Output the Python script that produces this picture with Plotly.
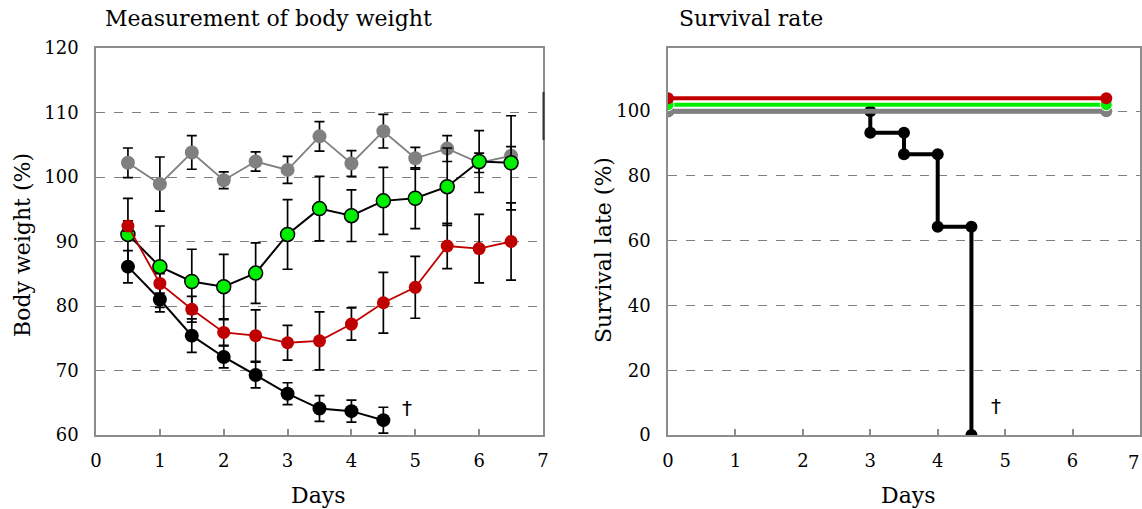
import plotly.graph_objects as go

# ---------------- data ----------------
days = [0.5, 1, 1.5, 2, 2.5, 3, 3.5, 4, 4.5, 5, 5.5, 6, 6.5]

gray_bw = [102.2, 98.9, 103.8, 99.5, 102.4, 101.1, 106.3, 102.1, 107.1, 102.9, 104.4, 102.2, 103.3]
gray_err = [2.3, 4.2, 2.6, 1.3, 1.5, 2.1, 2.3, 2.0, 2.6, 1.7, 2.0, 1.5, 1.4]

green_bw = [91.1, 86.1, 83.8, 83.0, 85.1, 91.1, 95.1, 94.0, 96.3, 96.7, 98.5, 102.4, 102.2]
green_err = [5.6, 6.3, 5.0, 5.0, 4.7, 5.4, 5.0, 4.0, 5.2, 4.7, 6.0, 4.8, 7.3]

red_bw = [92.4, 83.5, 79.5, 75.9, 75.4, 74.3, 74.6, 77.2, 80.5, 82.9, 89.3, 88.9, 90.0]
red_err = [0.8, 1.5, 2.0, 2.0, 4.0, 2.7, 4.5, 2.5, 4.7, 4.8, 3.5, 5.3, 6.0]

black_days = [0.5, 1, 1.5, 2, 2.5, 3, 3.5, 4, 4.5]
black_bw = [86.1, 81.0, 75.4, 72.1, 69.3, 66.4, 64.1, 63.7, 62.3]
black_err = [2.5, 1.9, 2.6, 1.7, 2.0, 1.7, 2.0, 1.7, 2.0]

surv_days_flat = [0, 6.5]
gray_surv = [100, 100]
green_surv = [102, 102]
red_surv = [104, 104]

black_surv_days = [0, 3, 3, 3.5, 3.5, 4, 4, 4.5, 4.5]
black_surv = [100, 100, 93.3, 93.3, 86.7, 86.7, 64.3, 64.3, 0]

bw_ticks = [60, 70, 80, 90, 100, 110, 120]
surv_ticks = [0, 20, 40, 60, 80, 100]
day_ticks = [0, 1, 2, 3, 4, 5, 6, 7]

# ---------------- styles ----------------
FONT = "DejaVu Serif"
GRID = "#7f7f7f"
FRAME = "#8c8c8c"
RED = "#c00000"
GREEN = "#00ee00"
GRAYC = "#808080"

fig = go.Figure()

def err(arr):
    return dict(type="data", array=arr, color="black", thickness=1.7, width=5)

# Left panel
fig.add_trace(go.Scatter(x=days, y=gray_bw, mode="lines+markers", error_y=err(gray_err),
                         line=dict(color=GRAYC, width=1.8),
                         marker=dict(color=GRAYC, size=14), xaxis="x", yaxis="y"))
fig.add_trace(go.Scatter(x=black_days, y=black_bw, mode="lines+markers", error_y=err(black_err),
                         line=dict(color="black", width=2),
                         marker=dict(color="black", size=14), xaxis="x", yaxis="y"))
fig.add_trace(go.Scatter(x=days, y=green_bw, mode="lines+markers", error_y=err(green_err),
                         line=dict(color="black", width=2),
                         marker=dict(color=GREEN, size=14, line=dict(color="black", width=1.5)),
                         xaxis="x", yaxis="y"))
fig.add_trace(go.Scatter(x=days, y=red_bw, mode="lines+markers", error_y=err(red_err),
                         line=dict(color=RED, width=1.8),
                         marker=dict(color=RED, size=13), xaxis="x", yaxis="y"))

# Right panel
fig.add_trace(go.Scatter(x=black_surv_days, y=black_surv, mode="lines+markers",
                         line=dict(color="black", width=4),
                         marker=dict(color="black", size=12), xaxis="x2", yaxis="y2"))
fig.add_trace(go.Scatter(x=surv_days_flat, y=gray_surv, mode="lines+markers",
                         line=dict(color=GRAYC, width=5),
                         marker=dict(color=GRAYC, size=12), xaxis="x2", yaxis="y2"))
fig.add_trace(go.Scatter(x=surv_days_flat, y=green_surv, mode="lines+markers",
                         line=dict(color=GREEN, width=4),
                         marker=dict(color=GREEN, size=12, line=dict(color="white", width=1)),
                         xaxis="x2", yaxis="y2"))
fig.add_trace(go.Scatter(x=surv_days_flat, y=red_surv, mode="lines+markers",
                         line=dict(color=RED, width=4),
                         marker=dict(color=RED, size=12), xaxis="x2", yaxis="y2"))

W, H = 1142, 509
Lx0, Lx1 = 96 / W, 543 / W
Rx0, Rx1 = 668 / W, 1140 / W
y0, y1 = 1 - 435 / H, 1 - 48 / H

tickfont = dict(family=FONT, size=18, color="black")
xcommon = dict(range=[0, 7], ticks="inside", ticklen=6, tickcolor=FRAME, automargin=False,
               tickwidth=1.5, showgrid=False, zeroline=False, showline=True, linecolor=FRAME,
               linewidth=1.6, mirror=True, tickfont=tickfont, ticklabelstandoff=9)
ycommon = dict(showgrid=True, gridcolor=GRID, griddash="dash", gridwidth=1.3, zeroline=False,
               showline=True, linecolor=FRAME, linewidth=1.6, mirror=True, ticks="",
               automargin=False, tickfont=tickfont, ticklabelstandoff=12)

fig.update_layout(
    width=W, height=H, margin=dict(l=0, r=0, t=0, b=0, autoexpand=False),
    paper_bgcolor="white", plot_bgcolor="white", showlegend=False,
    xaxis=dict(domain=[Lx0, Lx1], anchor="y", tickvals=day_ticks, **xcommon),
    yaxis=dict(domain=[y0, y1], anchor="x", range=[60, 120], tickvals=bw_ticks, **ycommon),
    xaxis2=dict(domain=[Rx0, Rx1], anchor="y2", tickvals=day_ticks[:-1], **xcommon),
    yaxis2=dict(domain=[y0, y1], anchor="x2", range=[0, 119.5], tickvals=surv_ticks, **ycommon),
)

def txt(x, y, s, size=22, xanchor="center", yanchor="middle", angle=0, xref="paper", yref="paper",
        family=FONT):
    fig.add_annotation(x=x, y=y, xref=xref, yref=yref, text=s, showarrow=False,
                       font=dict(family=family, size=size, color="black"),
                       xanchor=xanchor, yanchor=yanchor, textangle=angle)

txt(268 / W, 1 - 19 / H, "Measurement of body weight", size=22)
txt(677 / W, 1 - 19 / H, "Survival rate", size=22, xanchor="left")
txt(318 / W, 1 - 495 / H, "Days", size=22)
txt(908 / W, 1 - 495 / H, "Days", size=22)
txt(22 / W, 1 - 245 / H, "Body weight (%)", size=22, angle=-90)
txt(603 / W, 1 - 250 / H, "Survival late (%)", size=22, angle=-90)
# last x tick label of the right panel, kept inside the page
txt(1141 / W, 1 - 462 / H, "7", size=18, xanchor="right")
txt(4.87, 64.2, "†", size=20, xref="x", yref="y", family="DejaVu Sans")
txt(4.86, 9.0, "†", size=20, xref="x2", yref="y2", family="DejaVu Sans")

# small dark segment on the right frame of the left panel
fig.add_shape(type="line", xref="paper", yref="paper", x0=543.5 / W, x1=543.5 / W,
              y0=1 - 140 / H, y1=1 - 92 / H, line=dict(color="#333333", width=2))

fig.write_html("out.html", config={"displayModeBar": False},
               post_script="document.body.style.margin='0';document.body.style.overflow='hidden';")
